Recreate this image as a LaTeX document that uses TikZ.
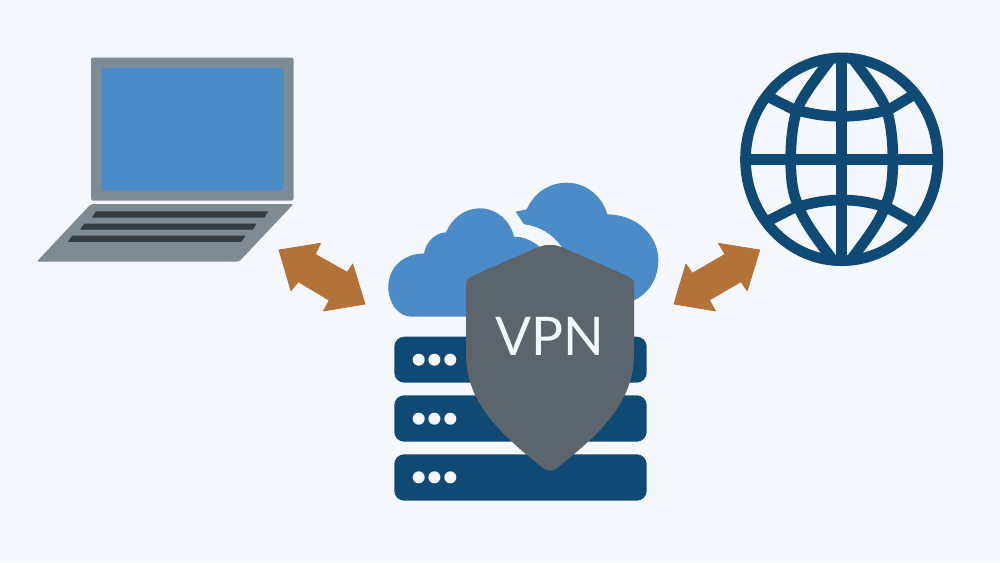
\documentclass[tikz,border=0pt]{standalone}
\usepackage{fontspec}
\setsansfont{Lato}
\definecolor{pagebg}{RGB}{244,248,252}
\definecolor{laptopgray}{RGB}{127,138,146}
\definecolor{screenblue}{RGB}{75,140,200}
\definecolor{keydark}{RGB}{53,59,62}
\definecolor{navy}{RGB}{15,74,117}
\definecolor{shieldgray}{RGB}{92,100,108}
\definecolor{arrowbrown}{RGB}{178,114,56}
\tikzset{every picture/.style={line width=0.75pt}}
\tikzset{
  laptoppart/.style={fill=laptopgray,rounded corners=1.5pt},
  keyrow/.style={fill=keydark},
  cloudpart/.style={fill=screenblue},
  serverrow/.style={fill=navy,rounded corners=7.5pt},
  leddot/.style={fill=pagebg},
  globeline/.style={draw=navy,line width=8pt},
  bothways/.style={fill=arrowbrown,draw=arrowbrown,line width=0.6pt,line join=round},
}

\begin{document}
\begin{tikzpicture}[x=0.75pt,y=0.75pt,yscale=-1,xscale=1]
	\useasboundingbox (0,0) rectangle (1000,562);
	\fill [pagebg] (0,0) rectangle (1000,562);

	%Laptop lid and screen
	\path [laptoppart] (91,57.5) rectangle (293.5,200.5);
	\fill [screenblue,rounded corners=1pt] (101.5,67.5) rectangle (283.5,190.5);
	%Laptop base
	\path [laptoppart] (91,204) -- (293.5,204) -- (239,261.7) -- (36.7,261.7) -- cycle;
	%Keyboard rows
	\path [keyrow] (96,211.3) -- (268.3,211.3) -- (264.3,217.5) -- (92,217.5) -- cycle;
	\path [keyrow] (84.3,223.5) -- (256.7,223.5) -- (252.7,229.7) -- (80,229.7) -- cycle;
	\path [keyrow] (72.3,235.5) -- (245.7,235.5) -- (241.3,241.8) -- (68,241.8) -- cycle;

	%Globe
	\draw [globeline] (841.7,159.3) ellipse (96.2 and 101.4);
	\draw [globeline] (745,159.4) -- (938,159.4);
	\draw [globeline] (841.8,58) -- (841.8,260.7);
	%Globe meridians
	\draw [globeline] (830,60) .. controls (815,80) and (803,95) .. (797,110) .. controls (792,125) and (790.7,145) .. (790.7,159.4) .. controls (790.7,175) and (792,190) .. (796,200) .. controls (802,220) and (818,240) .. (832,259);
	\draw [globeline] (853.6,60) .. controls (868.6,80) and (880.6,95) .. (886.6,110) .. controls (891.6,125) and (892.9,145) .. (892.9,159.4) .. controls (892.9,175) and (891.6,190) .. (887.6,200) .. controls (881.6,220) and (865.6,240) .. (851.6,259);
	%Globe latitudes
	\draw [globeline] (765,95) -- (792,108.7) .. controls (810,114) and (825,116.3) .. (841.8,116.3) .. controls (858,116.3) and (875,114) .. (890,109) -- (916,93.5);
	\draw [globeline] (765,222.5) -- (792,208.7) .. controls (810,203) and (825,200) .. (841.8,200) .. controls (858,200) and (875,203) .. (888.7,208.3) -- (917,224);

	%Double arrows
	\path [bothways] (279,250) -- (320.5,243.3) -- (315.3,254.3) -- (347.3,272.3) -- (352.7,264) -- (365,304) -- (323.5,311) -- (329.3,300.3) -- (298.3,281.7) -- (291,290.7) -- cycle;
	\path [bothways] (759.7,250) -- (718.5,243.3) -- (725,254.3) -- (692.3,273.3) -- (685.9,264) -- (674,304) -- (715.5,311) -- (709.3,300) -- (741,281.7) -- (747.2,290.7) -- cycle;

	%Right cloud
	\path [cloudpart] (515.7,211.7) -- (526.7,209.3) .. controls (534,193) and (549,182.7) .. (566.7,182.7) .. controls (586,182.7) and (602,196) .. (607.3,214.3) .. controls (636,214.5) and (658.3,235) .. (658.3,260) .. controls (658.3,280) and (648,293) .. (635,300) -- (562,300) -- (562,247.3) .. controls (553,234) and (539,226) .. (524,224.3) -- cycle;
	%Left cloud
	\path [cloudpart] (411.7,316.7) .. controls (398,316.7) and (388.3,303) .. (388.3,287) .. controls (388.3,268) and (403,253.5) .. (424,253.5) .. controls (426,242) and (435,233) .. (446,232.3) .. controls (452,218) and (465,208.3) .. (480,208.3) .. controls (496,208.3) and (510,220) .. (514,236.7) .. controls (524,236.5) and (533,241) .. (541,248) -- (541,316.7) -- cycle;

	%Server rows
	\path [serverrow] (394.3,336.7) rectangle (646.7,382.7);
	\path [serverrow] (394.3,395.3) rectangle (646.7,441.7);
	\path [serverrow] (394.3,454.3) rectangle (646.7,500.7);
	%Server lights
	\foreach \y in {359.7,418.7,477.3} {
		\foreach \x in {418.7,434.4,450.3} {
			\path [leddot] (\x,\y) circle (6);
		}
	}

	%Shield
	\fill [shieldgray] (550,245) [rounded corners=5pt] -- (543,245) -- (470,277) [rounded corners=3pt] -- (466,281) [sharp corners] -- (466,353) .. controls (466,400) and (495,430) .. (543,468) .. controls (547,471.5) and (553,471.5) .. (557,468) .. controls (605,430) and (634,400) .. (634,353) -- (634,281) [rounded corners=3pt] -- (630,277) [rounded corners=5pt] -- (557,245) -- cycle;

	% Text Node
	\node (vpnlabel) at (550,336.5) [inner sep=0pt,text=pagebg,font=\sffamily\fontsize{40}{44}\selectfont] {VPN};
\end{tikzpicture}
\end{document}
